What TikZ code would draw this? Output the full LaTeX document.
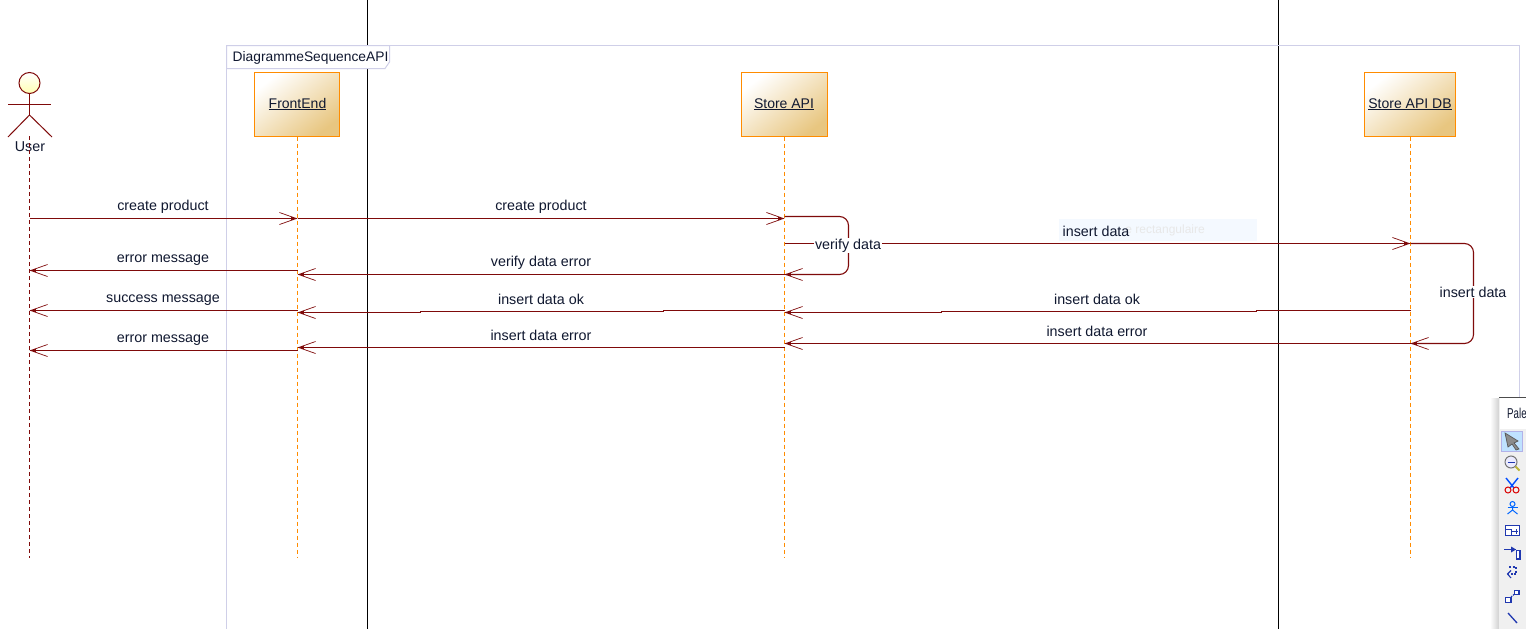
\documentclass[tikz,border=0pt]{standalone}
\usepackage{fontspec}
\setmainfont{Liberation Sans}
\newfontfamily\palettefont[FakeStretch=0.68]{Liberation Sans}
\usetikzlibrary{arrows.meta}
\definecolor{msgred}{HTML}{7F0A0A}
\definecolor{lifeorange}{HTML}{FF8C00}
\definecolor{framelilac}{HTML}{CFCFE8}
\definecolor{labelink}{HTML}{101830}
\definecolor{iconblue}{HTML}{2038B0}
\definecolor{objtan}{HTML}{E8C680}
\definecolor{tipblue}{HTML}{F4F9FF}
\tikzset{
  objbox/.style={draw=lifeorange,line width=1.1pt,top color=white,bottom color=objtan,shading angle=38,minimum height=64pt,outer sep=0pt,inner sep=0pt,text=labelink},
  objname/.style={msgtext,font=\fontsize{14}{16}\selectfont},
  lifeline/.style={lifeorange,line width=1.1pt,dash pattern=on 4pt off 3pt},
  msg/.style={msgred,line width=1.1pt,-{Square[length=3pt,width=3pt,sep=-15pt]Straight Barb[length=17pt,width=12pt,line width=.7pt]}},
  msgtext/.style={text=labelink,inner sep=1pt,anchor=base},
  looptext/.style={msgtext,fill=white},
  blackline/.style={black,line width=1pt},
  frameline/.style={framelilac,line width=1pt}
}
\begin{document}
\begin{tikzpicture}[x=1pt,y=-1pt,font=\fontsize{14.3}{16}\selectfont]
  \useasboundingbox (0,0) rectangle (1526,629);
  \fill[white] (0,0) rectangle (1526,629);
  \draw[blackline] (367.5,0) -- (367.5,629);
  \draw[blackline] (1278.5,0) -- (1278.5,629);
  \draw[frameline] (226.5,629) -- (226.5,45.5) -- (1519.5,45.5) -- (1519.5,398);
  \filldraw[frameline,fill=white] (226.5,45.5) -- (389.5,45.5) -- (389.5,62) -- (385,68.5) -- (226.5,68.5) -- cycle;
  \node[msgtext,anchor=base west] (frame title) at (231.5,61.5) {\fontsize{13.8}{16}\selectfont DiagrammeSequenceAPI};
  \fill[tipblue] (1059,219) rectangle (1257,241);
  \node[anchor=east,text=black!9,inner sep=0pt] (ghost text) at (1205,230) {\fontsize{12}{14}\selectfont e rectangulaire};
  \draw[msgred,line width=1pt,top color=white,bottom color=yellow!30] (29.5,83) circle (10.5);
  \draw[msgred,line width=1pt] (29.5,93.5) -- (29.5,115) coordinate (hip);
  \draw[msgred,line width=1pt] (8,104.5) -- (51,104.5);
  \draw[msgred,line width=1pt] (8,137) -- (hip) -- (52,137);
  \node[msgtext] (user) at (30,151.5) {User};
  \node[objbox,minimum width=85pt] (frontend) at (297,104.5) {};
  \node[objbox,minimum width=86pt] (store) at (784.5,104.5) {};
  \node[objbox,minimum width=91pt] (db) at (1410,104.5) {};
  \node[objname] (frontend name) at (297.5,108) {\underline{FrontEnd}};
  \node[objname] (store name) at (784,108) {\underline{Store API}};
  \node[objname] (db name) at (1410,108) {\underline{Store API DB}};
  \coordinate (user top) at (29.5,136);
  \coordinate (user end) at (29.5,558);
  \coordinate (frontend top) at (297.5,136.5);
  \coordinate (frontend end) at (297.5,558);
  \coordinate (store top) at (784.5,136.5);
  \coordinate (store end) at (784.5,558);
  \coordinate (db top) at (1410.5,136.5);
  \coordinate (db end) at (1410.5,558);
  \draw[msgred,line width=1pt,dash pattern=on 4pt off 3pt] (user top) -- (user end);
  \draw[lifeline] (frontend top) -- (frontend end);
  \draw[lifeline] (store top) -- (store end);
  \draw[lifeline] (db top) -- (db end);
  \coordinate (u1) at (29.5,218.5);
  \coordinate (f1) at (297.5,218.5);
  \coordinate (s1) at (784.5,218.5);
  \coordinate (s2) at (784.5,216.5);
  \coordinate (s3) at (784.5,243.5);
  \coordinate (d3) at (1410.5,243.5);
  \coordinate (s4) at (784.5,274.5);
  \coordinate (f4) at (297.5,274.5);
  \coordinate (f5) at (297.5,270.5);
  \coordinate (u5) at (29.5,270.5);
  \coordinate (d6) at (1410.5,310.5);
  \coordinate (s6) at (784.5,312.5);
  \coordinate (s7) at (784.5,310.5);
  \coordinate (f7) at (297.5,312.5);
  \coordinate (f8) at (297.5,310.5);
  \coordinate (u8) at (29.5,310.5);
  \coordinate (d9) at (1410.5,343.5);
  \coordinate (s9) at (784.5,343.5);
  \coordinate (s10) at (784.5,347.5);
  \coordinate (f10) at (297.5,347.5);
  \coordinate (f11) at (297.5,350.5);
  \coordinate (u11) at (29.5,350.5);
  \draw[msg] (u1) -- (f1);
  \draw[msg] (f1) -- (s1);
  \draw[msg,rounded corners=9pt] (s2) -- ++(64,0) -- ++(0,58) -- (s4);
  \draw[msg] (s3) -- (d3);
  \draw[msg] (s4) -- (f4);
  \draw[msg] (f5) -- (u5);
  \draw[msg,rounded corners=9pt] (d3) -- ++(63,0) -- ++(0,100) -- (d9);
  \draw[msg] (d6) -- ++(-154,0) -- ++(0,1) -- ++(-315,0) -- ++(0,1) -- (s6);
  \draw[msg] (s7) -- ++(-121,0) -- ++(0,1) -- ++(-243,0) -- ++(0,1) -- (f7);
  \draw[msg] (f8) -- (u8);
  \draw[msg] (d9) -- (s9);
  \draw[msg] (s10) -- (f10);
  \draw[msg] (f11) -- (u11);
  \node[msgtext] (create a) at (163,210) {create product};
  \node[msgtext] (create b) at (541,210) {create product};
  \node[looptext] (verify) at (848,249.5) {verify data};
  \node[msgtext] (insert) at (1096,236) {insert data};
  \node[msgtext] (verify error) at (541,266) {verify data error};
  \node[msgtext] (error a) at (163,262) {error message};
  \node[looptext] (insert loop) at (1473,297) {insert data};
  \node[msgtext] (success) at (163,302) {success message};
  \node[msgtext] (ok a) at (541,304) {insert data ok};
  \node[msgtext] (ok b) at (1097,304) {insert data ok};
  \node[msgtext] (error b) at (163,342) {error message};
  \node[msgtext] (insert error a) at (541,340) {insert data error};
  \node[msgtext] (insert error b) at (1097,336) {insert data error};
  \shade[left color=white,right color=black!18] (1490,398) rectangle (1499,629);
  \fill[black!6] (1499,398) rectangle (1526,629);
  \fill[white] (1500,398) rectangle (1526,429);
  \draw[black!70,line width=1pt] (1499,397.5) -- (1526,397.5);
  \node[anchor=west,text=labelink,inner sep=0pt] (palette) at (1507,413) {\palettefont Pale};
  \filldraw[fill=blue!45!cyan!25,draw=black!30!blue!30,line width=1pt] (1501.5,431.5) rectangle (1522.5,451.5);
  \filldraw[fill=black!45,draw=black!65,line width=.7pt] (1505,433) -- (1518,441) -- (1514,443) -- (1519,449) -- (1516,450) -- (1512,444) -- (1508,447) -- cycle;
  \draw[black!55,fill=blue!8,line width=1pt] (1511,462) circle (6);
  \draw[iconblue,line width=1pt] (1507.5,462) -- (1514.5,462);
  \draw[yellow!70!black,line width=2pt] (1515.5,466.5) -- (1519.5,470.5);
  \draw[blue!70!cyan,line width=1.4pt] (1506,478) -- (1514,488);
  \draw[blue!70!cyan,line width=1.4pt] (1518,478) -- (1510,488);
  \draw[red!85!black,line width=1pt] (1508,490) circle (3);
  \draw[red!85!black,line width=1pt] (1516,490) circle (3);
  \draw[blue!60!cyan,line width=1pt] (1512.5,504) circle (2.5);
  \draw[blue!60!cyan,line width=1pt] (1512.5,506.5) -- (1512.5,510) -- (1507.5,514);
  \draw[blue!60!cyan,line width=1pt] (1512.5,510) -- (1517.5,514);
  \draw[blue!60!cyan,line width=1pt] (1507.5,507.5) -- (1517.5,507.5);
  \draw[iconblue,fill=white,line width=1.5pt] (1505.5,525.5) rectangle (1519.5,535.5);
  \draw[iconblue,line width=1pt] (1505,529) -- (1511,529) -- (1511,535);
  \draw[iconblue,line width=1pt] (1511,531) -- (1518,531);
  \draw[iconblue,line width=1pt] (1516,529) -- (1516,534);
  \draw[iconblue,line width=1.5pt] (1504,549.5) -- (1516,549.5);
  \fill[iconblue] (1516,549.5) -- (1511,546.5) -- (1511,552.5) -- cycle;
  \draw[iconblue,fill=white,line width=1.2pt] (1516.5,550.5) rectangle (1520,559);
  \draw[iconblue,line width=1.1pt,dash pattern=on 2pt off 1.5pt] (1509,567) -- (1516,567) -- (1516,574) -- (1508,574);
  \draw[iconblue,line width=1.1pt] (1511,570.5) -- (1507.5,574) -- (1511,578);
  \draw[iconblue,fill=white,line width=1.2pt] (1505.5,597.5) rectangle (1511,602.5);
  \draw[iconblue,fill=white,line width=1.2pt] (1514.5,590.5) rectangle (1519,594.5);
  \draw[iconblue,line width=1.1pt,dash pattern=on 1.5pt off 1pt] (1511,597) -- (1514.5,594);
  \draw[iconblue,line width=1.3pt] (1508,613) -- (1517,623);
\end{tikzpicture}
\end{document}
